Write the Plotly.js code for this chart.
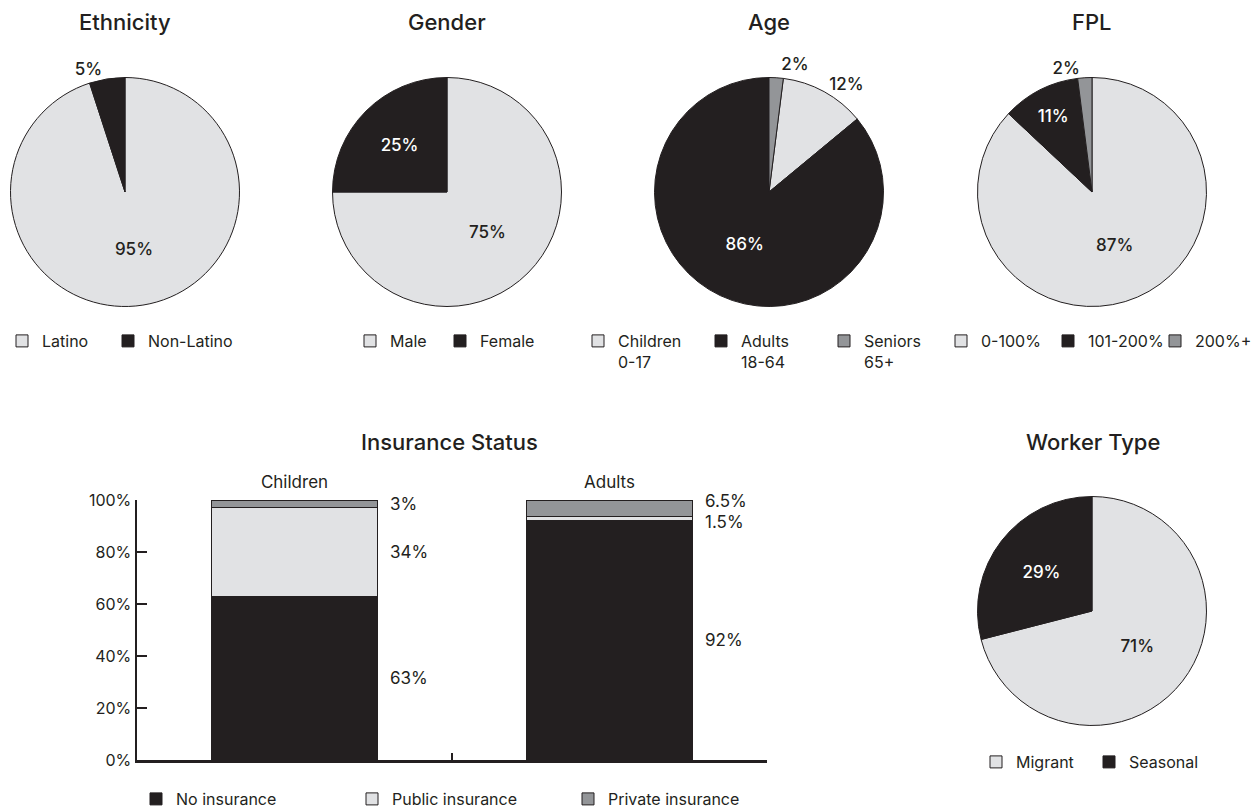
<!DOCTYPE html>
<html>
<head>
<meta charset="utf-8">
<script src="https://cdn.plot.ly/plotly-3.0.1.min.js"></script>
<style>
html,body{margin:0;padding:0;background:#fff;}
#chart{width:1257px;height:809px;}
path.textline{stroke-opacity:0 !important;}
g.scrollbox{clip-path:none !important;}
</style>
</head>
<body>
<div id="chart"></div>
<script>
// ---------- DATA ----------
const ethnicityLabels = ['Latino', 'Non-Latino'];
const ethnicityValues = [95, 5];

const genderLabels = ['Male', 'Female'];
const genderValues = [75, 25];

const ageLabels = ['Children<br>0-17', 'Adults<br>18-64', 'Seniors<br>65+'];
const ageValues = [12, 86, 2];

const fplLabels = ['0-100%', '101-200%', '200%+'];
const fplValues = [87, 11, 2];

const workerLabels = ['Migrant', 'Seasonal'];
const workerValues = [71, 29];

const insuranceGroups = ['Children', 'Adults'];
const noInsurance = [63, 92];
const publicInsurance = [34, 1.5];
const privateInsurance = [3, 6.5];
const insuranceSeries = ['No insurance', 'Public insurance', 'Private insurance'];

// ---------- STYLE ----------
const W = 1257, H = 809;
const LIGHT = '#e1e2e4', DARK = '#231f20', GRAY = '#939598';
const FONT = 'Inter, "DejaVu Sans", sans-serif';

function px2x(p) { return p / W; }
function px2y(p) { return 1 - p / H; }

function pieDomain(cx, cy, r) {
  return { x: [px2x(cx - r), px2x(cx + r)], y: [px2y(cy + r), px2y(cy - r)] };
}

function pieTrace(labels, values, colors, textColors, positions, domain, legendId, rotation) {
  return {
    type: 'pie',
    labels: labels,
    values: values,
    sort: false,
    direction: 'clockwise',
    rotation: rotation || 0,
    domain: domain,
    legend: legendId,
    marker: { colors: colors, line: { color: DARK, width: 1 } },
    texttemplate: '%{value}%',
    textposition: positions,
    insidetextorientation: 'horizontal',
    textfont: { family: FONT, size: 17, color: textColors, weight: 500 },
    hoverinfo: 'skip'
  };
}

const R = 114.5;
const traces = [
  pieTrace(ethnicityLabels, ethnicityValues, [LIGHT, DARK], [DARK, DARK],
           ['inside', 'outside'], pieDomain(125, 192, R), 'legend'),
  pieTrace(genderLabels, genderValues, [LIGHT, DARK], [DARK, '#ffffff'],
           ['inside', 'inside'], pieDomain(447, 192, R), 'legend2'),
  pieTrace(ageLabels, ageValues, [LIGHT, DARK, GRAY], [DARK, '#ffffff', DARK],
           ['outside', 'inside', 'outside'], pieDomain(769, 192, R), 'legend3',
           ageValues[2] * 3.6),
  pieTrace(fplLabels, fplValues, [LIGHT, DARK, GRAY], [DARK, '#ffffff', DARK],
           ['inside', 'inside', 'outside'], pieDomain(1092, 192, R), 'legend4'),
  pieTrace(workerLabels, workerValues, [LIGHT, DARK], [DARK, '#ffffff'],
           ['inside', 'inside'], pieDomain(1092, 611, R), 'legend5')
];

const barColors = [DARK, LIGHT, GRAY];
const barData = [noInsurance, publicInsurance, privateInsurance];
const BAR_W = 0.53;
barData.forEach((vals, i) => {
  traces.push({
    type: 'bar',
    name: insuranceSeries[i],
    x: insuranceGroups,
    y: vals,
    width: BAR_W,
    xaxis: 'x',
    yaxis: 'y',
    legend: 'legend6',
    marker: { color: barColors[i], line: { color: DARK, width: 1 } },
    hoverinfo: 'skip'
  });
});
// invisible carrier so the top category axis (group names) is drawn
traces.push({
  type: 'scatter', x: insuranceGroups, y: noInsurance, xaxis: 'x2', yaxis: 'y',
  mode: 'markers', marker: { opacity: 0 }, showlegend: false, hoverinfo: 'skip'
});

// Labels to the right of each bar segment
const annotations = [];
const yShifts = { 'Adults': [0, -3, 7] };
insuranceGroups.forEach((g, gi) => {
  let base = 0;
  barData.forEach((vals, si) => {
    const v = vals[gi];
    const mid = base + v / 2;
    base += v;
    const ys = (yShifts[g] || [0, 0, 0])[si];
    annotations.push({
      xref: 'x', yref: 'y', x: gi + BAR_W / 2, y: mid,
      text: v + '%', showarrow: false, xanchor: 'left', yanchor: 'middle',
      xshift: 10, yshift: ys,
      font: { family: FONT, size: 17, color: DARK }
    });
  });
});

// Titles
const titles = [
  ['Ethnicity', 125, 22], ['Gender', 447, 22], ['Age', 769, 22], ['FPL', 1092, 22],
  ['Insurance Status', 449, 442], ['Worker Type', 1093, 442]
];
titles.forEach(t => annotations.push({
  xref: 'paper', yref: 'paper', x: px2x(t[1]), y: px2y(t[2]),
  text: t[0], showarrow: false, xanchor: 'center', yanchor: 'middle',
  font: { family: FONT, size: 22, color: DARK, weight: 500 }
}));

function legendAt(leftPx, centerPx, entryW) {
  return {
    orientation: 'h', x: px2x(leftPx - 14), xanchor: 'left',
    y: px2y(centerPx - 15), yanchor: 'top',
    entrywidth: entryW, entrywidthmode: 'pixels',
    valign: 'top', traceorder: 'normal',
    font: { family: FONT, size: 16, color: DARK },
    bgcolor: 'rgba(0,0,0,0)', itemclick: false, itemdoubleclick: false
  };
}

const layout = {
  width: W, height: H,
  margin: { l: 0, r: 0, t: 0, b: 0, autoexpand: false },
  paper_bgcolor: '#ffffff', plot_bgcolor: '#ffffff',
  font: { family: FONT, color: DARK },
  barmode: 'stack',
  showlegend: true,
  legend: legendAt(16, 339, 61),
  legend2: legendAt(364, 339, 45),
  legend3: legendAt(592, 339, 78),
  legend4: legendAt(955, 339, 62),
  legend5: legendAt(990, 760, 68),
  legend6: legendAt(150, 797, 171),
  xaxis: {
    domain: [px2x(137), px2x(767)], anchor: 'y',
    type: 'category', categoryorder: 'array', categoryarray: insuranceGroups,
    range: [-0.5, 1.5001], showline: true, linecolor: DARK, linewidth: 2.5,
    ticks: 'inside', tickson: 'boundaries', ticklen: 7, tickwidth: 2, tickcolor: DARK,
    showticklabels: false, showgrid: false, zeroline: false, fixedrange: true
  },
  xaxis2: {
    overlaying: 'x', anchor: 'y', side: 'top',
    type: 'category', categoryorder: 'array', categoryarray: insuranceGroups,
    range: [-0.5, 1.5001], showline: false, ticks: '', showgrid: false, zeroline: false,
    tickfont: { family: FONT, size: 17, color: DARK }, ticklabelstandoff: 8
  },
  yaxis: {
    domain: [px2y(760), px2y(500)], anchor: 'x',
    range: [0, 100], dtick: 20, ticksuffix: '%',
    showline: true, linecolor: DARK, linewidth: 2.5,
    ticks: 'inside', ticklen: 10, tickwidth: 2.5, tickcolor: DARK,
    showgrid: false, zeroline: false, fixedrange: true,
    tickfont: { family: FONT, size: 16, color: DARK }
  },
  annotations: annotations
};

Plotly.newPlot('chart', traces, layout, { displayModeBar: false, staticPlot: true });
</script>
</body>
</html>
